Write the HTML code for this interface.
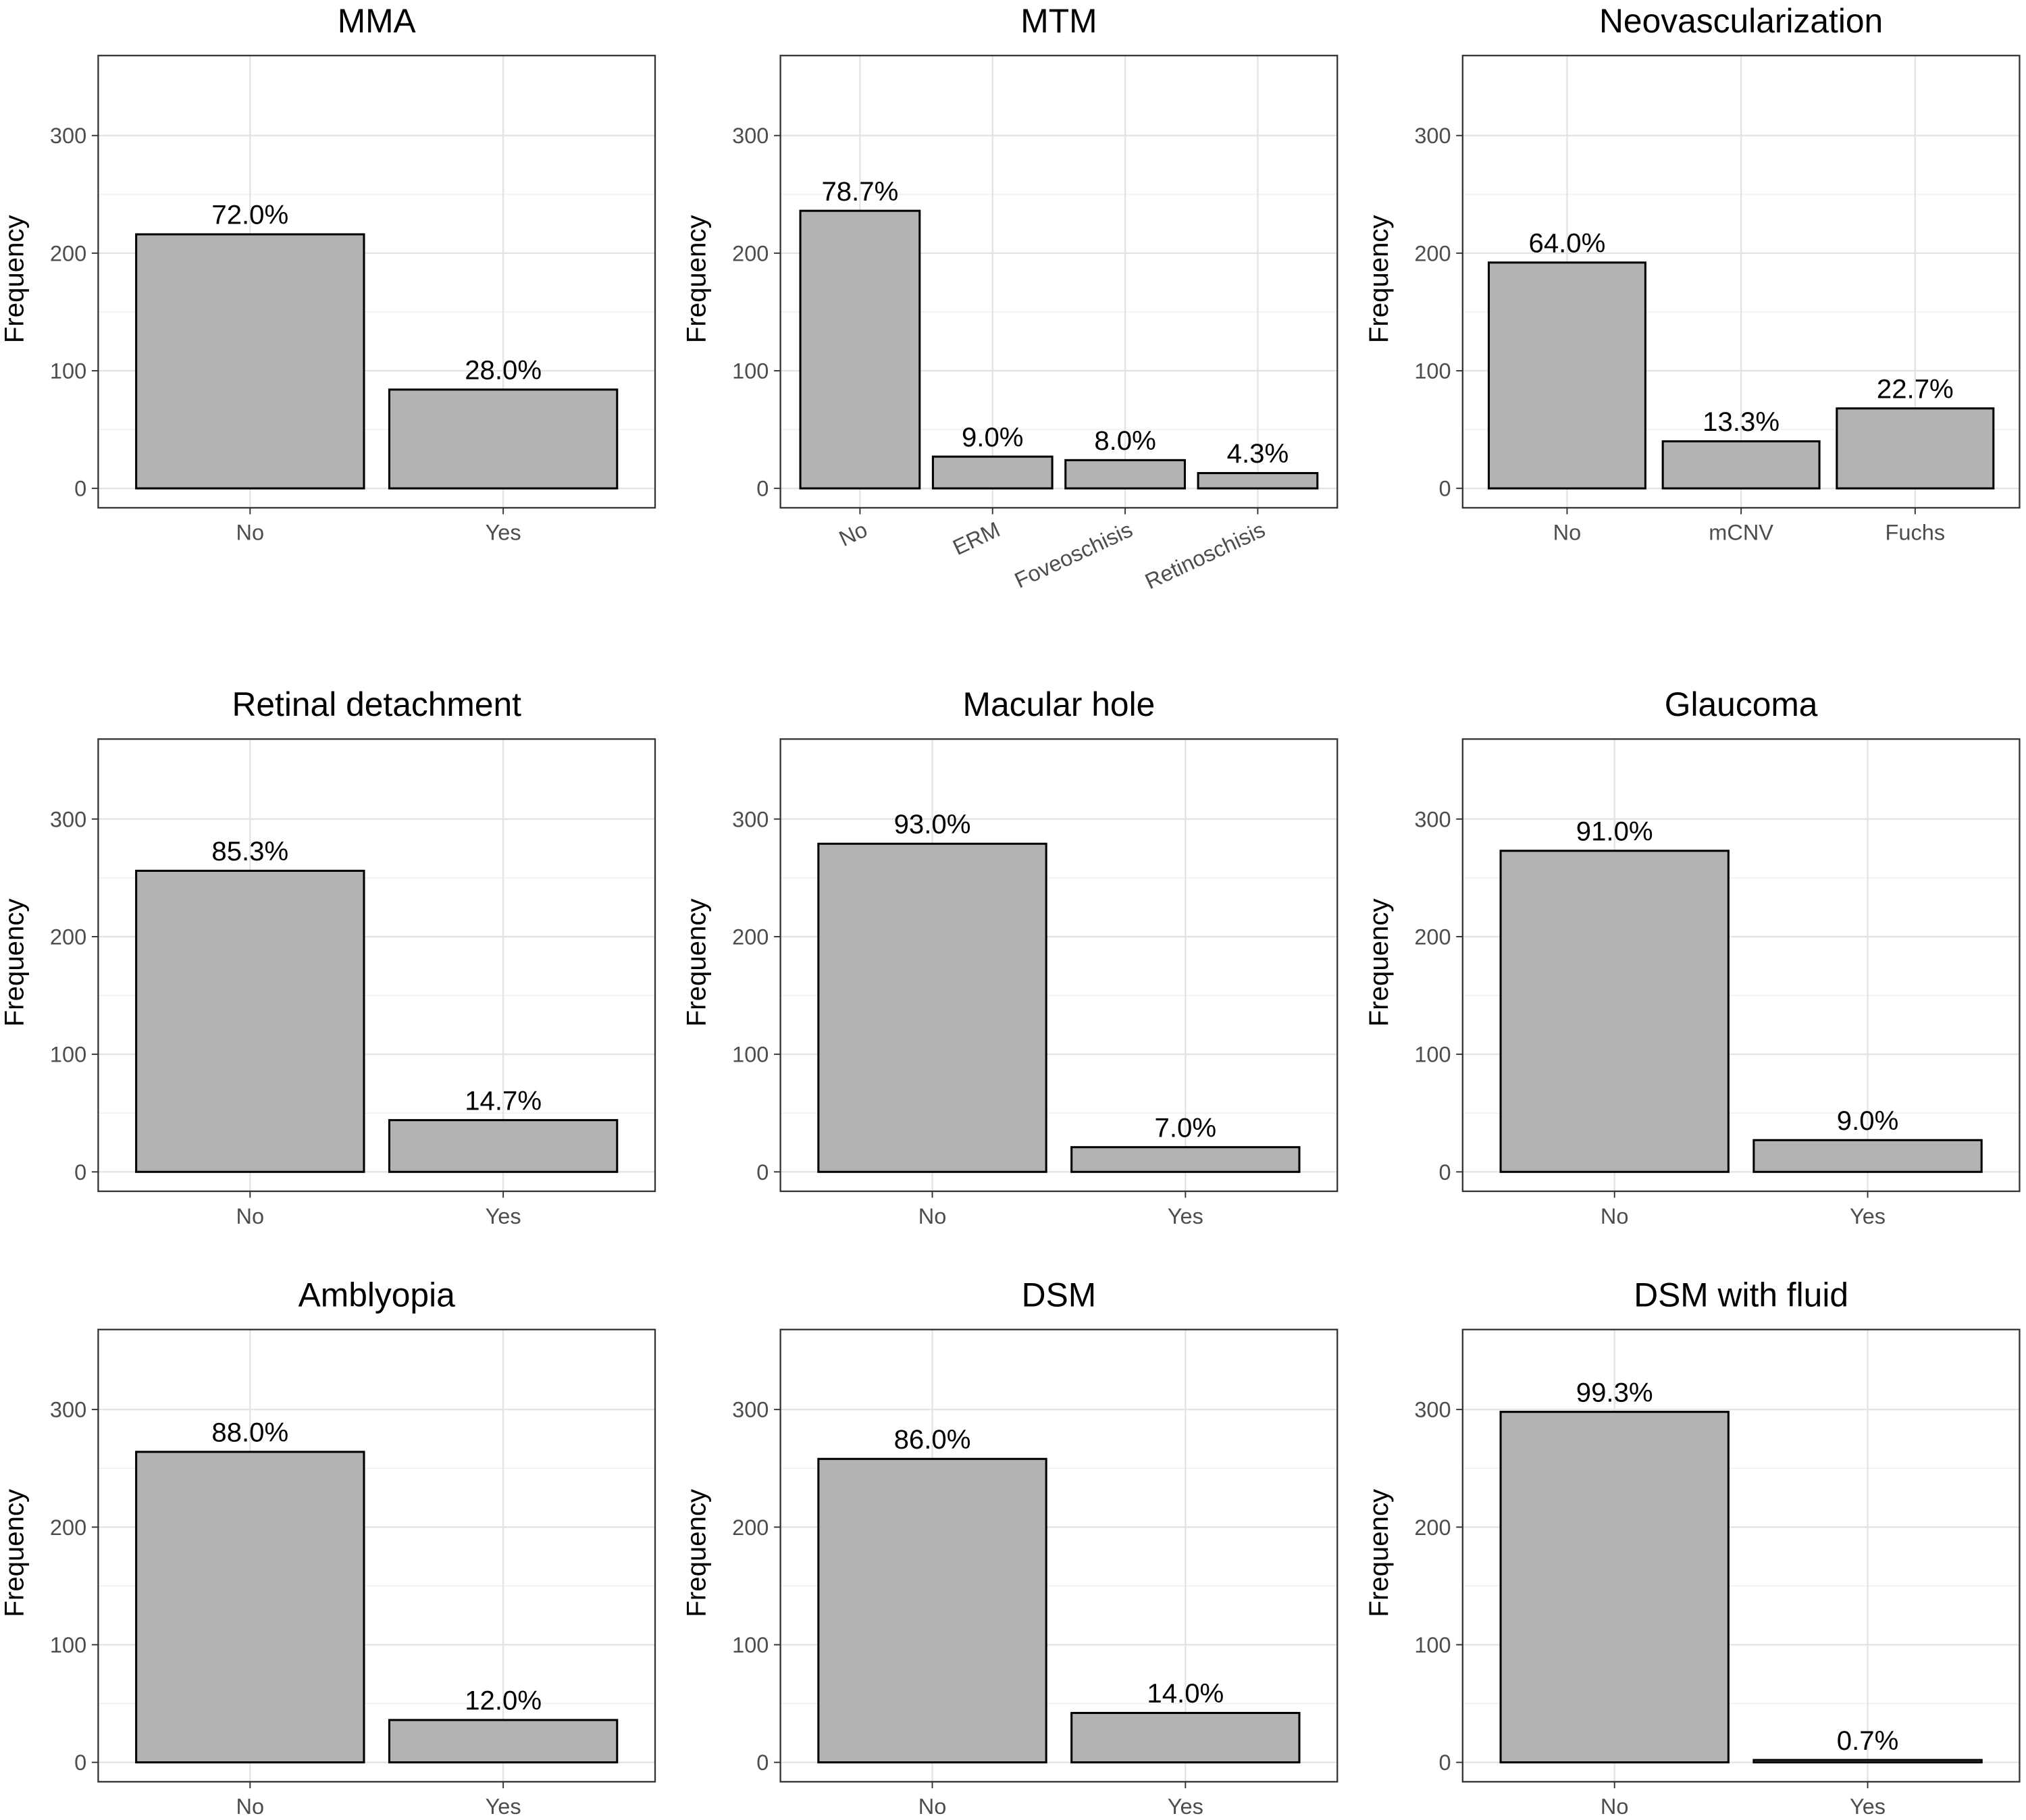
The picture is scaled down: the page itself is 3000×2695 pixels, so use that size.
<!DOCTYPE html>
<html><head><meta charset="utf-8"><style>
html,body{margin:0;padding:0;background:#fff}
svg{display:block}
text{font-family:"Liberation Sans",sans-serif}
</style></head><body>
<svg id="chart" width="3000" height="2695" viewBox="0 0 1568 1408.6" preserveAspectRatio="none" xmlns="http://www.w3.org/2000/svg"></svg>
<script>
const titles = ["MMA","MTM","Neovascularization","Retinal detachment","Macular hole","Glaucoma","Amblyopia","DSM","DSM with fluid"];
const cats0 = ["No","Yes"];
const cats1 = ["No","ERM","Foveoschisis","Retinoschisis"];
const cats2 = ["No","mCNV","Fuchs"];
const counts0 = [216,84];
const counts1 = [236,27,24,13];
const counts2 = [192,40,68];
const counts3 = [256,44];
const counts4 = [279,21];
const counts5 = [273,27];
const counts6 = [264,36];
const counts7 = [258,42];
const counts8 = [298,2];
const pcts0 = ["72.0%","28.0%"];
const pcts1 = ["78.7%","9.0%","8.0%","4.3%"];
const pcts2 = ["64.0%","13.3%","22.7%"];
const pcts3 = ["85.3%","14.7%"];
const pcts4 = ["93.0%","7.0%"];
const pcts5 = ["91.0%","9.0%"];
const pcts6 = ["88.0%","12.0%"];
const pcts7 = ["86.0%","14.0%"];
const pcts8 = ["99.3%","0.7%"];
const yTicks = [0,100,200,300];
const yMinor = [50,150,250];

const panels = [
 [cats0,counts0,pcts0],[cats1,counts1,pcts1],[cats2,counts2,pcts2],
 [cats0,counts3,pcts3],[cats0,counts4,pcts4],[cats0,counts5,pcts5],
 [cats0,counts6,pcts6],[cats0,counts7,pcts7],[cats0,counts8,pcts8]];
const svg = document.getElementById('chart');
const NS = "http://www.w3.org/2000/svg";
function mk(tag, attrs, parent){const e=document.createElementNS(NS,tag);for(const k in attrs)e.setAttribute(k,attrs[k]);parent.appendChild(e);return e;}
const colX=[76,604,1132], rowY=[43,572,1029], PW=431, PH=350;
const yLo=-16.5, yHi=368;
panels.forEach((p,i)=>{
  const [cats,vals,pcts]=p;
  const x0=colX[i%3], y0=rowY[Math.floor(i/3)];
  const g=mk('g',{},svg);
  
  
  const yS=v=>y0+PH-(v-yLo)/(yHi-yLo)*PH;
  const n=cats.length, unit=PW/(n+0.2);
  const xS=k=>x0+(k+0.6)*unit;
  yMinor.forEach(v=>{const l=mk('line',{x1:x0,x2:x0+PW,y1:yS(v),y2:yS(v),stroke:'#f0f0f0','stroke-width':0.8},g);
    });
  yTicks.forEach(v=>{const l=mk('line',{x1:x0,x2:x0+PW,y1:yS(v),y2:yS(v),stroke:'#e3e3e3','stroke-width':1.2},g);
    
    const tk=mk('line',{x1:x0-5,x2:x0,y1:yS(v),y2:yS(v),stroke:'#333','stroke-width':1},g);
    
    const t=mk('text',{x:x0-9,y:yS(v)+6,'text-anchor':'end','font-size':17,fill:'#4d4d4d'},g);t.textContent=v;
    });
  cats.forEach((c,k)=>{const cx=xS(k);
    const l=mk('line',{x1:cx,x2:cx,y1:y0,y2:y0+PH,stroke:'#e3e3e3','stroke-width':1.2},g);
    });
  cats.forEach((c,k)=>{const cx=xS(k), w=0.9*unit;
    const r=mk('rect',{x:cx-w/2,y:yS(vals[k]),width:w,height:yS(0)-yS(vals[k]),fill:'#b3b3b3',stroke:'#000','stroke-width':1.6},g);
    
    const t=mk('text',{x:cx,y:yS(vals[k])-8,'text-anchor':'middle','font-size':21,fill:'#000'},g);t.textContent=pcts[k];
    
    const tk=mk('line',{x1:cx,x2:cx,y1:y0+PH,y2:y0+PH+5,stroke:'#333','stroke-width':1},g);
    
    let xt;
    if(n===4){xt=mk('text',{x:cx+7,y:y0+PH+21,'text-anchor':'end','font-size':17,fill:'#4d4d4d',transform:`rotate(-25 ${cx+7} ${y0+PH+21})`},g);}
    else{xt=mk('text',{x:cx,y:y0+PH+25,'text-anchor':'middle','font-size':17,fill:'#4d4d4d'},g);}
    xt.textContent=c;});
  const b=mk('rect',{x:x0,y:y0,width:PW,height:PH,fill:'none',stroke:'#333','stroke-width':1.2},g);
  
  const tt=mk('text',{x:x0+PW/2,y:y0-18,'text-anchor':'middle','font-size':26,fill:'#000'},g);tt.textContent=titles[i];
  
  const yc=y0+PH/2-2, yx=x0-58;
  const ya=mk('text',{x:yx,y:yc,'text-anchor':'middle','font-size':21,fill:'#000',transform:`rotate(-90 ${yx} ${yc})`},g);ya.textContent='Frequency';
  
});
</script>
</body></html>
